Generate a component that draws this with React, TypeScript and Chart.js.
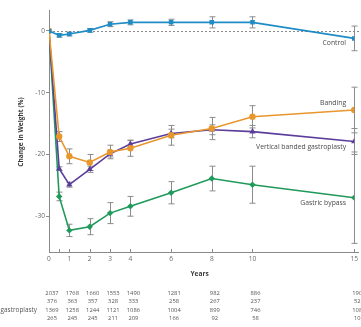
import React, { useEffect, useRef } from "react";
import { Chart, registerables } from "chart.js";

Chart.register(...registerables);

const years = [0, 0.5, 1, 2, 3, 4, 6, 8, 10, 15];
const xTicks = [0, 0.5, 1, 2, 3, 4, 6, 8, 10, 15];
const yTicks = [-30, -20, -10, 0];

const seriesNames = ["Control", "Banding", "Vertical banded gastroplasty", "Gastric bypass"];
const control = [0, -0.7, -0.5, 0.1, 1.1, 1.4, 1.4, 1.4, 1.4, -1.2];
const banding = [0, -17.1, -20.3, -21.3, -19.6, -19.0, -16.9, -15.8, -13.9, -12.8];
const vbg = [0, -22.3, -24.9, -22.4, -19.9, -18.3, -16.6, -16.0, -16.3, -17.9];
const bypass = [0, -26.8, -32.3, -31.7, -29.5, -28.4, -26.2, -23.9, -24.9, -27.0];

const controlErr = [0, 0.3, 0.3, 0.3, 0.4, 0.4, 0.5, 0.9, 0.9, 2.0];
const bandingErr = [0, 0.8, 1.2, 1.3, 1.1, 1.3, 1.6, 1.8, 1.8, 3.7];
const vbgErr = [0, 0.3, 0.4, 0.5, 0.5, 0.6, 0.7, 0.8, 1.0, 2.1];
const bypassErr = [0, 0.7, 1.0, 1.3, 1.7, 1.6, 1.8, 2.0, 3.0, 7.4];

// label anchor (x, y in data units) for the in-plot series labels
const labelX = 14.6;
const labelY = [-2.0, -11.7, -18.8, -27.9];

// number-at-risk table
const tableYears = [0, 1, 2, 3, 4, 6, 8, 10, 15];
const tableCounts = [
  [2037, 1768, 1660, 1553, 1490, 1281, 982, 886, 190],
  [376, 363, 357, 328, 333, 258, 267, 237, 52],
  [1369, 1258, 1244, 1121, 1086, 1004, 899, 746, 108],
  [265, 245, 245, 211, 209, 166, 92, 58, 10],
];

const colors = ["#1f8cc6", "#e8972d", "#5b3e9c", "#1f9a5b"];
const pointStyles = ["rect", "circle", "triangle", "rectRot"];
const values = [control, banding, vbg, bypass];
const errors = [controlErr, bandingErr, vbgErr, bypassErr];

const FONT = "'Open Sans', 'Liberation Sans', sans-serif";

const extras = {
  id: "extras",
  beforeDatasetsDraw(chart: any) {
    const { ctx } = chart;
    const xs = chart.scales.x;
    const ys = chart.scales.y;
    ctx.save();
    ctx.strokeStyle = "#8a8a8a";
    ctx.lineWidth = 1;
    ctx.setLineDash([2, 2]);
    ctx.beginPath();
    const y0 = Math.round(ys.getPixelForValue(0)) + 0.5;
    ctx.moveTo(xs.left, y0);
    ctx.lineTo(chart.width, y0);
    ctx.stroke();
    ctx.setLineDash([]);
    ctx.strokeStyle = "#8c8c8c";
    ctx.lineWidth = 1;
    values.forEach((vals, si) => {
      vals.forEach((v, i) => {
        const e = errors[si][i];
        if (!e) return;
        const px = Math.round(xs.getPixelForValue(years[i])) + 0.5;
        const top = ys.getPixelForValue(v + e);
        const bot = ys.getPixelForValue(v - e);
        ctx.beginPath();
        ctx.moveTo(px, top);
        ctx.lineTo(px, bot);
        ctx.moveTo(px - 3, top);
        ctx.lineTo(px + 3, top);
        ctx.moveTo(px - 3, bot);
        ctx.lineTo(px + 3, bot);
        ctx.stroke();
      });
    });
    ctx.restore();
  },
  afterDraw(chart: any) {
    const { ctx } = chart;
    const xs = chart.scales.x;
    const ys = chart.scales.y;
    ctx.save();
    ctx.strokeStyle = "#8a8a8a";
    ctx.lineWidth = 1;
    ctx.beginPath();
    xTicks.forEach((t) => {
      const px = Math.round(xs.getPixelForValue(t)) + 0.5;
      ctx.moveTo(px, xs.top);
      ctx.lineTo(px, xs.top - 3);
    });
    ctx.stroke();
    ctx.beginPath();
    ctx.moveTo(xs.right, Math.round(xs.top) + 0.5);
    ctx.lineTo(chart.width - 2, Math.round(xs.top) + 0.5);
    ctx.stroke();

    ctx.fillStyle = "#4a4a4a";
    ctx.font = `6.8px ${FONT}`;
    ctx.textAlign = "right";
    ctx.textBaseline = "middle";
    seriesNames.forEach((n, i) => {
      ctx.fillText(n, xs.getPixelForValue(labelX), ys.getPixelForValue(labelY[i]));
    });

    ctx.fillStyle = "#3a3a3a";
    ctx.font = `bold 6.6px ${FONT}`;
    ctx.textAlign = "center";
    ctx.fillText("Years", (xs.left + xs.right) / 2 - 2, 274);
    ctx.save();
    ctx.translate(21, 132);
    ctx.rotate(-Math.PI / 2);
    ctx.fillText("Change in Weight (%)", 0, 0);
    ctx.restore();

    ctx.fillStyle = "#555555";
    const rowY = [293, 301.5, 310, 318.5];
    const labelFont = `6.4px ${FONT}`;
    ctx.font = labelFont;
    const startX = 37 - ctx.measureText(seriesNames[2]).width;
    tableCounts.forEach((row, r) => {
      ctx.font = labelFont;
      ctx.textAlign = "left";
      ctx.fillText(seriesNames[r], startX, rowY[r]);
      ctx.font = `5.8px ${FONT}`;
      ctx.textAlign = "center";
      row.forEach((c, ci) => {
        const cx = xs.getPixelForValue(tableYears[ci]) + 3;
        ctx.fillText(String(c), cx, rowY[r]);
      });
    });
    ctx.restore();
  },
};

export default function App() {
  const ref = useRef<HTMLCanvasElement | null>(null);
  useEffect(() => {
    document.body.style.margin = "0";
    const canvas = ref.current;
    if (!canvas) return;
    const chart = new Chart(canvas, {
      type: "line",
      data: {
        datasets: values.map((vals, si) => ({
          label: seriesNames[si],
          data: vals.map((v, i) => ({ x: years[i], y: v })),
          borderColor: colors[si],
          backgroundColor: colors[si],
          borderWidth: 1.6,
          pointStyle: pointStyles[si],
          pointRadius: si === 2 ? 3.6 : 3.2,
          pointBorderWidth: 0,
          tension: 0,
        })),
      },
      options: {
        animation: false,
        responsive: false,
        devicePixelRatio: 1,
        layout: { padding: { left: 0, right: 6, top: 10, bottom: 0 } },
        plugins: {
          legend: { display: false },
          tooltip: { enabled: false },
        },
        scales: {
          x: {
            type: "linear",
            min: 0,
            max: 15,
            afterFit: (s: any) => {
              s.height = 75;
            },
            afterBuildTicks: (s: any) => {
              s.ticks = xTicks.map((v) => ({ value: v }));
            },
            ticks: {
              autoSkip: false,
              maxRotation: 0,
              padding: 3,
              color: "#6a6a6a",
              font: { size: 6.6, family: FONT },
              callback: (v: any) => (v === 0.5 ? "" : String(v)),
            },
            grid: { display: false, drawTicks: false },
            border: { display: true, color: "#8a8a8a", width: 1 },
          },
          y: {
            min: -35.8,
            max: 3.4,
            afterFit: (s: any) => {
              s.width = 49;
            },
            afterBuildTicks: (s: any) => {
              s.ticks = yTicks.map((v) => ({ value: v }));
            },
            ticks: {
              padding: 1,
              color: "#6a6a6a",
              font: { size: 6.6, family: FONT },
              callback: (v: any) => String(v),
            },
            grid: {
              drawOnChartArea: false,
              drawTicks: true,
              tickLength: 3,
              color: "#8a8a8a",
            },
            border: { display: true, color: "#8a8a8a", width: 1 },
          },
        },
      },
      plugins: [extras],
    });
    return () => chart.destroy();
  }, []);
  return (
    <div style={{ width: 361, height: 327 }}>
      <canvas ref={ref} width={361} height={327} style={{ display: "block" }} />
    </div>
  );
}
